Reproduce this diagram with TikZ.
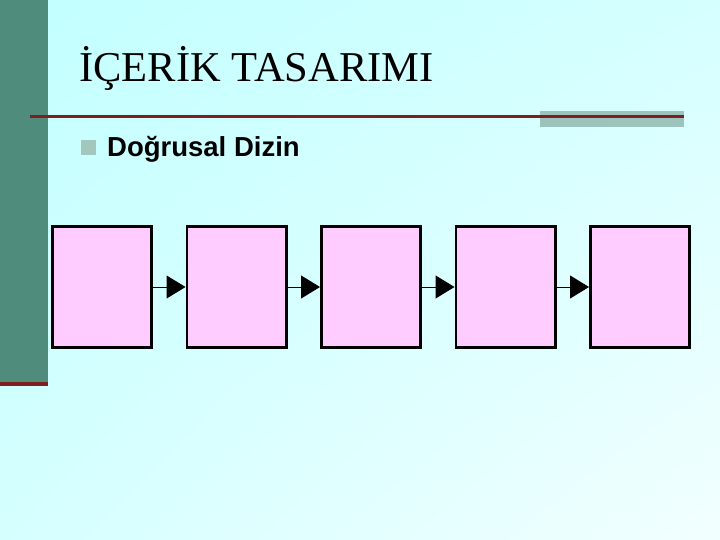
\documentclass[tikz,border=0pt]{standalone}
\usepackage{fontspec}
\setmainfont{Liberation Serif}
\newfontfamily\arialfont{Liberation Sans}
\usetikzlibrary{arrows.meta,positioning,shadings}

\definecolor{bgtop}{HTML}{C2FFFF}
\definecolor{bgbot}{HTML}{F2FFFF}
\definecolor{barteal}{HTML}{4F8C7B}
\definecolor{rulered}{HTML}{7E1E1E}
\definecolor{bulletgray}{HTML}{A3C6BD}
\definecolor{rulegray}{HTML}{9CC4BC}
\definecolor{cellpink}{HTML}{FFCCFF}

\begin{document}
\begin{tikzpicture}[x=1bp, y=-1bp, node distance=32.5bp,
  cell/.style = {draw, line width=2.6bp, fill=cellpink, minimum width=99.4bp, minimum height=121.4bp, inner sep=0pt},
  link/.style = {-{Triangle[length=19bp,width=23bp]}, line width=1bp}]
  % Background
  \useasboundingbox (0,0) rectangle (720,540);
  \shade[upper left=bgtop, upper right=bgtop!60!bgbot, lower left=bgtop!60!bgbot, lower right=bgbot] (0,0) rectangle (720,540);
  \fill[barteal] (0,0) rectangle (48,382);
  \fill[rulered] (0,382) rectangle (48,386);
  \fill[rulegray] (540,111) rectangle (684,127);
  \draw[rulered, line width=3bp] (30,117) -- (684,117);

  % Texts
  \node[anchor=base west, inner sep=0pt, font=\fontsize{42.5bp}{48bp}\selectfont] (title) at (79,82) {İÇERİK TASARIMI};
  \fill[bulletgray] (81,140) rectangle (96,155);
  \node[anchor=base west, inner sep=0pt, font=\arialfont\bfseries\fontsize{27.5bp}{32bp}\selectfont] (item) at (107,157) {Doğrusal Dizin};

  % Nodes
  \node[cell, anchor=north west] (c1) at (51,225) {};
  \node[cell] (c2) [right=of c1] {};
  \node[cell] (c3) [right=of c2] {};
  \node[cell] (c4) [right=of c3] {};
  \node[cell] (c5) [right=of c4] {};

  % Paths
  \path[link]
        (c1) edge (c2)
        (c2) edge (c3)
        (c3) edge (c4)
        (c4) edge (c5);
\end{tikzpicture}
\end{document}
